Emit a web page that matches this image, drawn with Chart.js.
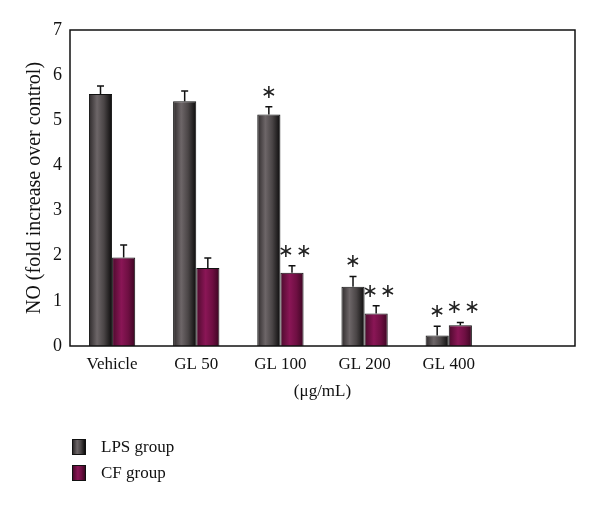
<html>
<head>
    <script src="https://cdn.jsdelivr.net/npm/chart.js"></script>
    <style>
        body { margin: 0; background: #fff; }
        #wrap { position: relative; width: 600px; height: 508px; }
        .leg { position: absolute; left: 72px; font-family: "Liberation Serif", serif; font-size: 17px; color: #111; }
        .leg span.box { position: absolute; left: 0; top: 1px; width: 14px; height: 16px; border: 1px solid #111; box-sizing: border-box; }
        .leg span.txt { position: absolute; left: 29px; top: -1px; white-space: nowrap; }
    </style>
</head>

<body>
    <div id="wrap">
        <canvas id="chart" width="600" height="508"></canvas>
        <div class="leg" style="top:438px"><span class="box" style="background:linear-gradient(90deg,#2e2a2b,#6d6668 35%,#4a4546 65%,#0c0b0b)"></span><span class="txt">LPS group</span></div>
        <div class="leg" style="top:464px"><span class="box" style="background:linear-gradient(90deg,#4c0a2c,#8a1656 40%,#6e0f42 70%,#3c0622)"></span><span class="txt">CF group</span></div>
    </div>
    <script>
        const categories = ['Vehicle', 'GL 50', 'GL 100', 'GL 200', 'GL 400', ''];
        const lpsValues = [5.58, 5.42, 5.13, 1.31, 0.23, null];
        const cfValues = [1.96, 1.73, 1.62, 0.72, 0.46, null];
        const lpsErr = [0.18, 0.23, 0.17, 0.23, 0.21, null];
        const cfErr = [0.28, 0.22, 0.16, 0.17, 0.06, null];
        const lpsStars = ['', '', '\u2217', '\u2217', '\u2217', ''];
        const cfStars = ['', '', '\u2217\u200a\u2217', '\u2217\u200a\u2217', '\u2217\u200a\u2217', ''];
        const yTicks = [0, 1, 2, 3, 4, 5, 6, 7];

        const FONT = '"Liberation Serif", serif';
        const CAT_PCT = 0.55;

        // cylinder-like shading, built from the bar's place on the x scale
        function shade(c, left, stops) {
            const chart = c.chart;
            const xs = chart.scales.x;
            if (!xs || !chart.chartArea) return stops[1][1];
            const step = xs.width / categories.length;
            const bw = step * CAT_PCT / 2;
            const cx = xs.getPixelForValue(c.dataIndex);
            const x0 = left ? cx - bw : cx;
            const g = chart.ctx.createLinearGradient(x0, 0, x0 + bw, 0);
            stops.forEach(s => g.addColorStop(s[0], s[1]));
            return g;
        }
        const lpsStops = [[0, '#2e2a2b'], [0.35, '#6d6668'], [0.65, '#4a4546'], [1, '#0c0b0b']];
        const cfStops = [[0, '#4c0a2c'], [0.4, '#8a1656'], [0.7, '#6e0f42'], [1, '#3c0622']];

        const errPlugin = {
            id: 'errs',
            afterDatasetsDraw(chart) {
                const ctx = chart.ctx;
                const ys = chart.scales.y;
                const errs = [lpsErr, cfErr];
                const stars = [lpsStars, cfStars];
                ctx.save();
                chart.data.datasets.forEach((ds, di) => {
                    const meta = chart.getDatasetMeta(di);
                    meta.data.forEach((bar, i) => {
                        const v = ds.data[i];
                        if (v == null) return;
                        const top = ys.getPixelForValue(v + errs[di][i]);
                        ctx.strokeStyle = '#111';
                        ctx.lineWidth = 1.5;
                        ctx.beginPath();
                        ctx.moveTo(bar.x, bar.y);
                        ctx.lineTo(bar.x, top);
                        ctx.moveTo(bar.x - 3.5, top);
                        ctx.lineTo(bar.x + 3.5, top);
                        ctx.stroke();
                        if (stars[di][i]) {
                            ctx.fillStyle = '#222';
                            ctx.font = '19px "DejaVu Sans", sans-serif';
                            ctx.textAlign = 'center';
                            ctx.textBaseline = 'middle';
                            ctx.fillText(stars[di][i], bar.x + (di ? 3 : 0), top - 14);
                        }
                    });
                });
                // frame round the plot
                const a = chart.chartArea;
                ctx.strokeStyle = '#111';
                ctx.lineWidth = 1.5;
                ctx.strokeRect(a.left, a.top, a.right - a.left, a.bottom - a.top);
                ctx.restore();
            }
        };

        new Chart(document.getElementById('chart'), {
            type: 'bar',
            data: {
                labels: categories,
                datasets: [{
                    label: 'LPS group',
                    data: lpsValues,
                    backgroundColor: c => shade(c, true, lpsStops),
                    borderColor: '#111',
                    borderWidth: 1
                }, {
                    label: 'CF group',
                    data: cfValues,
                    backgroundColor: c => shade(c, false, cfStops),
                    borderColor: '#111',
                    borderWidth: 1
                }]
            },
            options: {
                responsive: false,
                animation: false,
                layout: { padding: { top: 30, right: 25, left: 0, bottom: 102 } },
                datasets: { bar: { barPercentage: 1, categoryPercentage: CAT_PCT } },
                plugins: { legend: { display: false }, tooltip: { enabled: false } },
                scales: {
                    x: {
                        grid: { display: false, drawTicks: false },
                        border: { display: false },
                        ticks: { color: '#111', font: { family: FONT, size: 17 }, padding: 8, maxRotation: 0 },
                        title: { display: true, text: '(\u03bcg/mL)', color: '#111', font: { family: FONT, size: 17 }, padding: { top: 3 } },
                        afterFit: s => { s.height = 60; }
                    },
                    y: {
                        min: 0, max: 7,
                        afterBuildTicks: s => { s.ticks = yTicks.map(v => ({ value: v })); },
                        grid: { display: false, drawTicks: false },
                        border: { display: false },
                        ticks: { color: '#111', font: { family: FONT, size: 18 }, padding: 8 },
                        title: { display: true, text: 'NO (fold increase over control)', color: '#111', font: { family: FONT, size: 20 }, padding: { top: 23, bottom: 0 } },
                        afterFit: s => { s.width = 70; }
                    }
                }
            },
            plugins: [errPlugin]
        });
    </script>
</body>

</html>
